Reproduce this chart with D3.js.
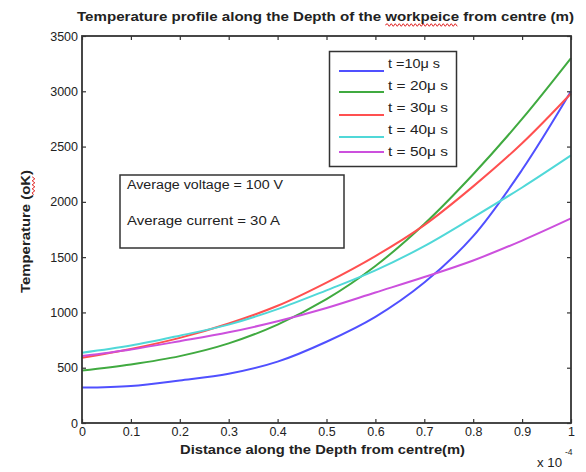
<!DOCTYPE html>
<html><head><meta charset="utf-8">
<script src="https://cdn.jsdelivr.net/npm/d3@7"></script>
<style>body{margin:0;background:#fff} svg text{font-family:"Liberation Sans",Arial,sans-serif;fill:#222}</style>
</head><body><svg id="c" width="586" height="472"></svg>
<script>
// ---- data (x in units of 1e-4 m, temperature in K) ----
const xValues = [0, 0.1, 0.2, 0.3, 0.4, 0.5, 0.6, 0.7, 0.8, 0.9, 1.0];
const tempT10 = [320, 335, 385, 445, 555, 735, 960, 1270, 1690, 2290, 3000];
const tempT20 = [475, 530, 605, 720, 890, 1120, 1420, 1800, 2250, 2750, 3300];
const tempT30 = [590, 670, 770, 900, 1060, 1270, 1510, 1790, 2140, 2530, 2980];
const tempT40 = [635, 700, 790, 890, 1030, 1200, 1380, 1600, 1860, 2130, 2420];
const tempT50 = [605, 665, 740, 820, 920, 1040, 1180, 1320, 1470, 1650, 1850];
const seriesLabels = ["t =10\u03bc s", "t = 20\u03bc s", "t = 30\u03bc s", "t = 40\u03bc s", "t = 50\u03bc s"];
const seriesColors = ["#5050ff", "#40aa40", "#ff5050", "#50d8d8", "#cc50dd"];
const xTickValues = [0, 0.1, 0.2, 0.3, 0.4, 0.5, 0.6, 0.7, 0.8, 0.9, 1.0];
const xTickLabels = ["0", "0.1", "0.2", "0.3", "0.4", "0.5", "0.6", "0.7", "0.8", "0.9", "1"];
const yTickValues = [0, 500, 1000, 1500, 2000, 2500, 3000, 3500];
const annotationLines = ["Average voltage = 100 V", "Average current = 30 A"];

const series = [tempT10, tempT20, tempT30, tempT40, tempT50].map((vals, i) => ({
  label: seriesLabels[i], color: seriesColors[i],
  points: xValues.map((x, j) => ({x, y: vals[j]}))
}));

const svg = d3.select("#c");
const L = 82, R = 571, T = 36, B = 423;
const x = d3.scaleLinear().domain([0, 1]).range([L, R]);
const y = d3.scaleLinear().domain([0, 3500]).range([B, T]);

// curves
const line = d3.line().x(d => x(d.x)).y(d => y(d.y)).curve(d3.curveCatmullRom.alpha(0.5));
svg.append("g").selectAll("path").data(series).join("path")
  .attr("d", d => line(d.points)).attr("fill", "none")
  .attr("stroke", d => d.color).attr("stroke-width", 2);

// axes (ticks inward, all four sides)
const tickFont = 12.5;
function styleAxis(g, hideLabels) {
  g.select(".domain").remove();
  g.selectAll(".tick line").attr("stroke", "#333").attr("stroke-width", 1.2);
  g.selectAll(".tick text").attr("font-size", tickFont).attr("fill", "#222")
    .attr("font-family", "'Liberation Sans',Arial,sans-serif");
  if (hideLabels) g.selectAll(".tick text").remove();
}
svg.append("g").attr("transform", `translate(0,${B})`)
  .call(d3.axisBottom(x).tickValues(xTickValues).tickFormat((d, i) => xTickLabels[i]).tickSizeInner(-4).tickSizeOuter(0).tickPadding(4))
  .call(g => styleAxis(g, false));
svg.append("g").attr("transform", `translate(0,${T})`)
  .call(d3.axisTop(x).tickValues(xTickValues).tickSizeInner(-4).tickSizeOuter(0))
  .call(g => styleAxis(g, true));
svg.append("g").attr("transform", `translate(${L},0)`)
  .call(d3.axisLeft(y).tickValues(yTickValues).tickFormat(d3.format("d")).tickSizeInner(-4).tickSizeOuter(0).tickPadding(4))
  .call(g => styleAxis(g, false));
svg.append("g").attr("transform", `translate(${R},0)`)
  .call(d3.axisRight(y).tickValues(yTickValues).tickSizeInner(-4).tickSizeOuter(0))
  .call(g => styleAxis(g, true));

svg.append("rect").attr("x", L).attr("y", T).attr("width", R - L).attr("height", B - T)
  .attr("fill", "none").attr("stroke", "#333").attr("stroke-width", 1.8);

// wavy underline helper
function wavy(g, x0, x1, yy) {
  let d = `M${x0},${yy}`; let up = true;
  for (let xx = x0 + 2; xx <= x1; xx += 2) { d += `L${xx},${yy + (up ? -1.3 : 1.3)}`; up = !up; }
  g.append("path").attr("d", d).attr("fill", "none").attr("stroke", "#e02020").attr("stroke-width", 1);
}

// title
const titleText = "Temperature profile along the Depth of the workpeice from centre (m)";
const tg = svg.append("g");
const title = tg.append("text").attr("x", 77).attr("y", 21)
  .attr("font-size", 13).attr("font-weight", "bold")
  .attr("textLength", 497).attr("lengthAdjust", "spacingAndGlyphs").text(titleText);
{
  const idx = titleText.indexOf("workpeice");
  const n = title.node();
  const s = n.getStartPositionOfChar(idx).x, e = n.getEndPositionOfChar(idx + 8).x;
  wavy(tg, s, e, 25);
}

// x label
svg.append("text").attr("x", 180).attr("y", 454)
  .attr("font-size", 12.5).attr("font-weight", "bold")
  .attr("textLength", 285).attr("lengthAdjust", "spacingAndGlyphs")
  .text("Distance along the Depth from centre(m)");
// exponent
svg.append("text").attr("x", 537).attr("y", 467).attr("font-size", 12)
  .attr("textLength", 25).attr("lengthAdjust", "spacingAndGlyphs").text("x 10");
svg.append("text").attr("x", 565).attr("y", 455).attr("font-size", 8.5).text("-4");

// y label
const ylabText = "Temperature (oK)";
const yg = svg.append("g").attr("transform", "translate(30,293) rotate(-90)");
const ylab = yg.append("text").attr("x", 0).attr("y", 0)
  .attr("font-size", 12.5).attr("font-weight", "bold")
  .attr("textLength", 123).attr("lengthAdjust", "spacingAndGlyphs").text(ylabText);
{
  const idx = ylabText.indexOf("oK");
  const n = ylab.node();
  const s = n.getStartPositionOfChar(idx).x, e = n.getEndPositionOfChar(idx + 1).x;
  wavy(yg, s, e, 3.5);
}

// legend
const lg = svg.append("g");
lg.append("rect").attr("x", 329.5).attr("y", 51.5).attr("width", 127).attr("height", 115)
  .attr("fill", "#fff").attr("stroke", "#333").attr("stroke-width", 1.5);
const legTextY = [64, 86, 108, 130, 152];
const legLineY = [71, 92, 115, 137, 152];
const legTextW = [52, 60, 60, 60, 60];
series.forEach((s, i) => {
  lg.append("line").attr("x1", 339).attr("x2", 384).attr("y1", legLineY[i]).attr("y2", legLineY[i])
    .attr("stroke", s.color).attr("stroke-width", 2);
  lg.append("text").attr("x", 388).attr("y", legTextY[i]).attr("dy", "0.35em")
    .attr("font-size", 12.5).attr("textLength", legTextW[i]).attr("lengthAdjust", "spacingAndGlyphs")
    .text(s.label);
});

// annotation box
const ag = svg.append("g");
ag.append("rect").attr("x", 120).attr("y", 175).attr("width", 224).attr("height", 73)
  .attr("fill", "#fff").attr("stroke", "#333").attr("stroke-width", 1.5);
ag.selectAll("text.ann").data(annotationLines).join("text").attr("class", "ann")
  .attr("x", 127).attr("y", (d, i) => [185, 221][i]).attr("dy", "0.35em")
  .attr("font-size", 12.5).attr("textLength", (d, i) => [156, 153][i]).attr("lengthAdjust", "spacingAndGlyphs")
  .text(d => d);
</script></body></html>
